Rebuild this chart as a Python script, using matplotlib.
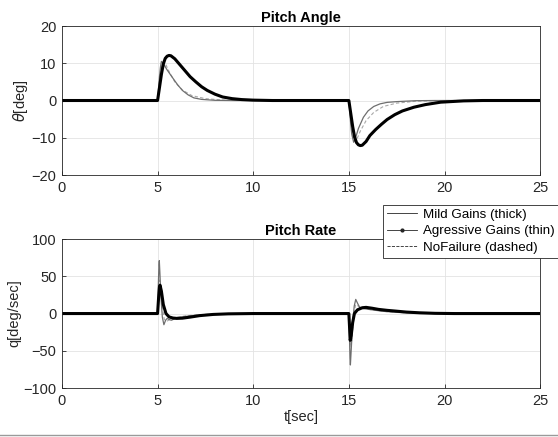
import matplotlib
matplotlib.use("Agg")
import matplotlib.pyplot as plt
from matplotlib.lines import Line2D

plt.rcParams['font.family'] = ['Liberation Sans', 'DejaVu Sans']

# ---- pitch angle [deg] ----
t_th_mild = [0, 5.0, 5.1, 5.2, 5.3, 5.4, 5.5, 5.6, 5.7, 5.9, 6.1, 6.4, 6.7, 7.0, 7.3, 7.6, 8.0, 8.4, 8.9, 9.4, 10, 11,
             15.0, 15.1, 15.2, 15.3, 15.4, 15.5, 15.6, 15.7, 15.9, 16.1, 16.4, 16.7, 17.0, 17.4, 17.8, 18.4, 19.0, 19.8, 21, 22, 25]
th_mild = [0, 0, 3.5, 7, 9.8, 11.3, 11.9, 12.1, 12.0, 11.2, 10.0, 8.2, 6.4, 5.0, 3.7, 2.7, 1.7, 0.95, 0.5, 0.25, 0.1, 0,
           0, -3.5, -7, -9.8, -11.3, -11.9, -12.1, -12.0, -11.0, -9.4, -7.8, -6.4, -5.1, -3.8, -2.8, -1.8, -1.1, -0.45, -0.1, 0, 0]

t_th_aggr = [0, 5.0, 5.05, 5.1, 5.15, 5.2, 5.35, 5.5, 5.8, 6.05, 6.3, 6.6, 6.9, 7.3, 8.0, 9.0,
             15.0, 15.05, 15.1, 15.15, 15.25, 15.35, 15.5, 15.76, 16.0, 16.3, 16.63, 17.0, 17.5, 18.5, 19.5, 25]
th_aggr = [0, 0, 3, 6.5, 9, 10.5, 9.5, 8.2, 6.0, 4.2, 2.7, 1.5, 0.7, 0.3, 0.05, 0,
           0, -3, -6.5, -9, -11.2, -10, -7.5, -4.5, -2.8, -1.6, -0.9, -0.5, -0.3, -0.05, 0, 0]

t_th_nofail = [0, 5.0, 5.1, 5.2, 5.3, 5.4, 5.6, 5.9, 6.3, 6.8, 7.5, 8.5, 10,
               15.0, 15.1, 15.2, 15.3, 15.4, 15.6, 15.9, 16.3, 16.8, 17.5, 18.5, 20, 25]
th_nofail = [0, 0, 5, 8.8, 10.4, 10.0, 7.8, 5.0, 2.8, 1.3, 0.5, 0.1, 0,
             0, -5, -9, -11, -10.6, -8.2, -5.4, -3.2, -1.6, -0.7, -0.2, 0, 0]

# ---- pitch rate [deg/sec] ----
t_q_mild = [0, 5.0, 5.05, 5.1, 5.13, 5.2, 5.3, 5.44, 5.6, 5.8, 6.0, 6.3, 6.7, 7.2, 7.9, 8.7, 10,
            15.0, 15.03, 15.07, 15.12, 15.2, 15.29, 15.45, 15.7, 15.9, 16.2, 16.55, 17.0, 17.4, 18.0, 18.7, 19.5, 20.5, 25]
q_mild = [0, 0, 20, 36, 38, 30, 12, 0, -4.5, -6, -6.5, -6.2, -4.8, -2.8, -1.2, -0.4, 0,
          0, -15, -36, -30, -12, 0, 5, 7.8, 8.3, 7.2, 5.6, 4.3, 3.4, 2.0, 1.0, 0.3, 0, 0]

t_q_aggr = [0, 5.0, 5.03, 5.07, 5.09, 5.12, 5.18, 5.25, 5.33, 5.42, 5.5, 5.6, 5.72, 5.9, 6.2, 6.7, 7.4, 8.5, 10,
            15.0, 15.03, 15.06, 15.08, 15.12, 15.2, 15.28, 15.36, 15.45, 15.59, 15.8, 16.2, 16.8, 17.6, 18.6, 20, 25]
q_aggr = [0, 0, 30, 65, 71, 55, 20, -5, -15, -9, -6.5, -8, -9, -7, -5, -3, -1.5, -0.4, 0,
          0, -30, -60, -69, -50, -12, 10, 19, 14, 7, 6.5, 5, 3, 1.5, 0.5, 0, 0]

t_q_nofail = [0, 5.0, 5.05, 5.1, 5.15, 5.25, 5.35, 5.5, 5.7, 6.0, 6.5, 7.2, 8.5, 10,
              15.0, 15.05, 15.1, 15.15, 15.25, 15.35, 15.5, 15.8, 16.3, 17.0, 18.0, 19.5, 21, 25]
q_nofail = [0, 0, 25, 45, 40, 10, -8, -10, -7, -5, -3, -1.5, -0.3, 0,
            0, -25, -45, -38, -5, 12, 10, 7, 4.5, 2.5, 1, 0.2, 0, 0]

x_ticks = [0, 5, 10, 15, 20, 25]
th_ticks = [-20, -10, 0, 10, 20]
q_ticks = [-100, -50, 0, 50, 100]

fig = plt.figure(figsize=(5.58, 4.37), dpi=100)
ax1 = fig.add_axes([0.111, 0.5995, 0.857, 0.341])
ax2 = fig.add_axes([0.111, 0.112, 0.857, 0.341])

dark = '#262626'
for ax in (ax1, ax2):
    ax.set_xlim(0, 25)
    ax.set_xticks(x_ticks)
    ax.grid(True, color='#e3e3e3', lw=0.6)
    ax.set_axisbelow(True)
    ax.tick_params(direction='in', length=3, width=0.6, colors=dark, labelsize=10.5, pad=4,
                   top=False, right=False)
    for s in ax.spines.values():
        s.set_color(dark)
        s.set_linewidth(0.6)

ax1.plot(t_th_nofail, th_nofail, color='#a8a8a8', lw=0.8, dashes=(3, 2))
ax1.plot(t_th_aggr, th_aggr, color='#6e6e6e', lw=0.9)
ax1.plot(t_th_mild, th_mild, color='black', lw=2.2)
ax1.set_ylim(-20, 20)
ax1.set_yticks(th_ticks)
ax1.set_ylabel(r'$\theta$[deg]', fontsize=10.5, color=dark, labelpad=1)
ax1.set_title('Pitch Angle', fontsize=10.5, fontweight='bold', pad=3)

ax2.plot(t_q_nofail, q_nofail, color='#a8a8a8', lw=0.8, dashes=(3, 2))
ax2.plot(t_q_aggr, q_aggr, color='#6e6e6e', lw=0.9)
ax2.plot(t_q_mild, q_mild, color='black', lw=2.2)
ax2.set_ylim(-100, 100)
ax2.set_yticks(q_ticks)
ax2.set_ylabel('q[deg/sec]', fontsize=10.5, color=dark, labelpad=1)
ax2.set_xlabel('t[sec]', fontsize=10.5, color=dark, labelpad=2)
ax2.set_title('Pitch Rate', fontsize=10.5, fontweight='bold', pad=3)

handles = [Line2D([], [], color=dark, lw=0.6),
           Line2D([], [], color=dark, lw=0.6, marker='.', markersize=4),
           Line2D([], [], color=dark, lw=0.6, ls='--')]
labels = ['Mild Gains (thick)', 'Agressive Gains (thin)', 'NoFailure (dashed)']
leg = fig.legend(handles, labels, loc='lower left', bbox_to_anchor=(0.686, 0.41),
                 bbox_transform=fig.transFigure, borderaxespad=0, fancybox=False,
                 framealpha=1, edgecolor=dark, fontsize=9.6, handlelength=2.3,
                 handletextpad=0.4, labelspacing=0.3, borderpad=0.3)
leg.get_frame().set_linewidth(0.6)

fig.add_artist(Line2D([0, 1], [0.004, 0.004], transform=fig.transFigure, color='#9a9a9a', lw=1))

fig.savefig('out.png', dpi=100)
